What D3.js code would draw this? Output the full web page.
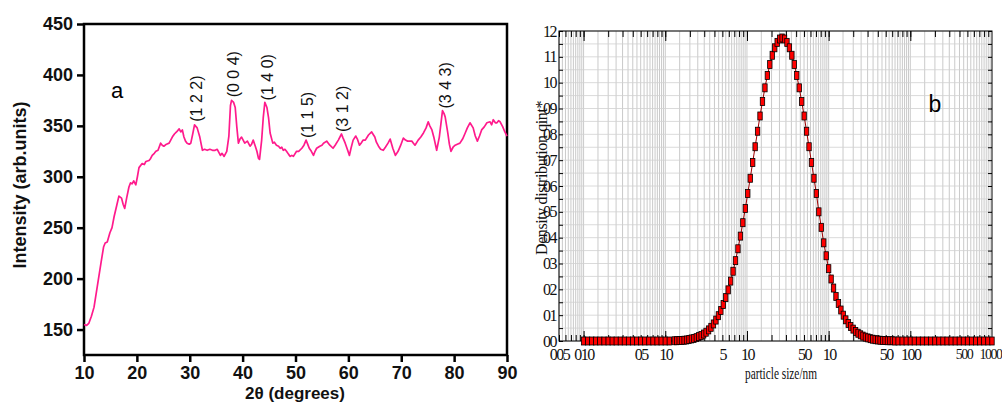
<!DOCTYPE html>
<html>
<head>
<meta charset="utf-8">
<script src="https://cdn.jsdelivr.net/npm/d3@7"></script>
<style>
  body { margin: 0; background: #fff; }
  svg { display: block; }
</style>
</head>
<body>
<script>
const w = 1002; // width
const h = 404;  // height

// ---- panel a : XRD pattern ----
const twoTheta = [10.0, 10.5, 10.9, 11.4, 11.9, 12.5, 13.2, 13.7, 14.0, 14.4, 14.9, 15.3, 15.7, 16.2, 16.6, 17.1, 17.4, 17.7, 18.1, 18.5,
  18.8, 19.1, 19.4, 19.8, 20.1, 20.4, 21.0, 21.4, 21.7, 22.3, 22.6, 22.9, 23.3, 23.6, 24.0, 24.5, 24.8, 25.1, 25.6, 26.1,
  26.4, 26.7, 27.1, 27.5, 28.0, 28.3, 28.6, 28.9, 29.2, 29.5, 29.9, 30.2, 30.6, 30.9, 31.4, 31.9, 32.2, 32.4, 32.8, 33.3,
  33.8, 34.3, 34.8, 35.2, 35.5, 35.8, 36.1, 36.5, 37.0, 37.4, 37.7, 37.9, 38.3, 38.6, 38.9, 39.2, 39.5, 39.8, 40.1, 40.4,
  40.9, 41.4, 41.7, 42.0, 42.4, 42.7, 43.0, 43.2, 43.6, 43.9, 44.2, 44.6, 44.9, 45.2, 45.7, 46.0, 46.4, 46.8, 47.1, 47.4,
  47.7, 48.0, 48.3, 48.7, 49.0, 49.3, 49.6, 50.2, 50.6, 51.2, 51.6, 52.0, 52.3, 52.6, 53.0, 53.4, 53.7, 54.0, 54.6, 55.0,
  55.3, 55.9, 56.2, 56.5, 57.1, 57.5, 58.1, 58.7, 59.0, 59.4, 59.8, 60.2, 60.5, 60.9, 61.4, 61.7, 62.1, 62.4, 62.8, 63.2,
  63.8, 64.4, 65.0, 65.3, 65.7, 66.1, 66.6, 67.0, 67.5, 67.9, 68.4, 68.9, 69.4, 69.9, 70.4, 70.8, 71.2, 71.6, 72.0, 72.3,
  72.6, 73.2, 73.7, 74.2, 74.7, 75.1, 75.4, 75.8, 76.2, 76.7, 77.2, 77.5, 77.8, 78.1, 78.3, 78.8, 79.1, 79.4, 79.8, 80.2,
  80.6, 81.1, 81.6, 82.1, 82.5, 83.0, 83.6, 84.0, 84.4, 84.8, 85.2, 85.7, 86.2, 86.8, 87.1, 87.4, 87.8, 88.1, 88.4, 88.7,
  89.2, 89.6, 90.0];
const intensity = [155, 154, 156, 163, 172, 192, 215, 231, 235, 236, 245, 250, 261, 272, 281, 279, 273, 269, 280, 290,
  294, 293, 296, 292, 300, 309, 313, 312, 315, 316, 318, 321, 323, 325, 326, 333, 331, 330, 332, 333,
  336, 339, 342, 344, 347, 344, 346, 339, 335, 333, 332, 333, 343, 351, 348, 339, 331, 326, 327, 326,
  327, 326, 326, 327, 324, 321, 323, 320, 325, 340, 370, 375, 373, 368, 349, 333, 337, 339, 336, 333,
  335, 330, 332, 336, 330, 325, 318, 317, 336, 358, 373, 368, 358, 343, 333, 334, 331, 330, 328, 329,
  326, 327, 325, 322, 320, 321, 320, 325, 325, 328, 331, 336, 332, 328, 325, 321, 325, 328, 330, 331,
  333, 335, 333, 331, 328, 331, 336, 342, 338, 333, 327, 321, 328, 336, 340, 337, 331, 333, 336, 336,
  341, 344, 339, 334, 330, 327, 326, 329, 333, 337, 328, 321, 325, 331, 338, 336, 335, 335, 335, 333,
  331, 336, 339, 343, 348, 354, 350, 346, 338, 326, 339, 352, 365, 362, 359, 343, 332, 325, 329, 331,
  332, 333, 337, 343, 348, 353, 348, 340, 335, 340, 346, 349, 353, 354, 351, 356, 353, 353, 355, 354,
  349, 344, 340];
const hklLabels = ["(1 2 2)", "(0 0 4)", "(1 4 0)", "(1 1 5)", "(3 1 2)", "(3 4 3)"];
const hklTheta = [31.2, 38.2, 44.6, 52.2, 58.8, 78.3];
const hklIntensity = [354, 378, 375, 338, 344, 367];
const xTicksA = [10, 20, 30, 40, 50, 60, 70, 80, 90];
const yTicksA = [150, 200, 250, 300, 350, 400, 450];

// ---- panel b : particle size distribution ----
const sizes = [0.01, 0.0112, 0.0126, 0.0141, 0.0158, 0.0178, 0.02, 0.0224, 0.0251, 0.0282, 0.0316, 0.0355, 0.0398, 0.0447,
  0.0501, 0.0562, 0.0631, 0.0708, 0.0794, 0.0891, 0.1, 0.112,
  0.129, 0.138, 0.148, 0.158, 0.170, 0.182, 0.195, 0.209, 0.224, 0.240, 0.257, 0.275, 0.295, 0.316, 0.339, 0.363,
  0.389, 0.417, 0.447, 0.479, 0.513, 0.550, 0.589, 0.631, 0.676, 0.724, 0.776, 0.832, 0.891, 0.955, 1.023, 1.096,
  1.175, 1.259, 1.349, 1.445, 1.549, 1.660, 1.778, 1.905, 2.042, 2.188, 2.344, 2.512, 2.692, 2.884, 3.090, 3.311,
  3.548, 3.802, 4.074, 4.365, 4.677, 5.012, 5.370, 5.754, 6.166, 6.607, 7.079, 7.586, 8.128, 8.710, 9.333, 10.0,
  10.72, 11.48, 12.30, 13.18, 14.13, 15.14, 16.22, 17.38, 18.62, 19.95, 21.38, 22.91, 24.55, 26.30, 28.18, 30.20,
  32.36, 34.67, 37.15, 39.81, 42.66, 45.71, 48.98, 52.48, 56.23, 60.26, 64.57,
  70.8, 79.4, 89.1, 100, 112, 126, 141, 158, 178, 200, 224, 251, 282, 316, 355, 398, 447, 501, 562, 631, 708, 794,
  891, 1000];
const qValues = [0, 0, 0, 0, 0, 0, 0, 0, 0, 0, 0, 0, 0, 0,
  0, 0, 0, 0, 0, 0, 0, 0,
  0.001, 0.001, 0.002, 0.002, 0.003, 0.004, 0.006, 0.008, 0.010, 0.013, 0.017, 0.021, 0.027, 0.034, 0.043, 0.053,
  0.066, 0.081, 0.098, 0.118, 0.141, 0.168, 0.198, 0.232, 0.270, 0.311, 0.357, 0.406, 0.458, 0.513, 0.571, 0.630,
  0.691, 0.752, 0.812, 0.871, 0.927, 0.980, 1.028, 1.070, 1.106, 1.135, 1.156, 1.169, 1.173, 1.169, 1.156, 1.135,
  1.106, 1.070, 1.028, 0.980, 0.927, 0.871, 0.812, 0.752, 0.691, 0.630, 0.571, 0.50, 0.44, 0.38, 0.33, 0.28,
  0.24, 0.205, 0.172, 0.145, 0.12, 0.10, 0.082, 0.068, 0.056, 0.046, 0.037, 0.030, 0.024, 0.019, 0.015, 0.012,
  0.009, 0.007, 0.005, 0.004, 0.003, 0.002, 0.002, 0.001, 0.001, 0.001, 0,
  0, 0, 0, 0, 0, 0, 0, 0, 0, 0, 0, 0, 0, 0, 0, 0, 0, 0, 0, 0, 0, 0,
  0, 0];
const xTicksB = [0.005, 0.01, 0.05, 0.1, 0.5, 1, 5, 10, 50, 100, 500, 1000];
const xLabelsB = ["005", "010", "05", "10", "5", "10", "50", "10", "50", "100", "500", "1000"];
const yTicksB = [0, 0.1, 0.2, 0.3, 0.4, 0.5, 0.6, 0.7, 0.8, 0.9, 1.0, 1.1, 1.2];
const yLabelsB = ["00", "01", "02", "03", "04", "05", "06", "07", "08", "09", "10", "11", "12"];

let svg = d3.select("body")
    .append("svg")
    .attr("width", w)
    .attr("height", h);

drawXrd();
drawPsd();

function drawXrd() {
    let x = d3.scaleLinear().domain([10, 90]).range([84, 507]);
    let y = d3.scaleLinear().domain([125, 450]).range([355, 24]);
    let g = svg.append("g");

    // frame
    g.append("rect")
        .attr("x", x(10)).attr("y", y(450))
        .attr("width", x(90) - x(10)).attr("height", y(125) - y(450))
        .attr("fill", "none").attr("stroke", "#000").attr("stroke-width", 2.5);

    let gY = g.append("g")
        .attr("transform", `translate(${x(10)},0)`)
        .call(d3.axisLeft(y).tickValues(yTicksA).tickSize(7).tickPadding(4));
    let gX = g.append("g")
        .attr("transform", `translate(0,${y(125)})`)
        .call(d3.axisBottom(x).tickValues(xTicksA).tickSize(7).tickPadding(4));
    [gX, gY].forEach(a => {
        a.select(".domain").remove();
        a.selectAll("line").attr("stroke-width", 2.5);
        a.selectAll("text")
            .attr("font-family", "Liberation Sans, Arial, sans-serif")
            .attr("font-weight", "bold")
            .attr("font-size", 18)
            .attr("fill", "#111");
    });

    // pattern
    let line = d3.line()
        .x((d, i) => x(twoTheta[i]))
        .y(d => y(d));
    g.append("path")
        .datum(intensity)
        .attr("d", line)
        .attr("fill", "none")
        .attr("stroke", "#ff1a8c")
        .attr("stroke-width", 1.7)
        .attr("stroke-linejoin", "round");

    // hkl labels
    g.selectAll(".hkl")
        .data(hklLabels)
        .enter()
        .append("text")
        .attr("class", "hkl")
        .attr("transform", (d, i) => `translate(${x(hklTheta[i]) + 6},${y(hklIntensity[i])}) rotate(-90)`)
        .attr("font-family", "Liberation Sans, Arial, sans-serif")
        .attr("font-size", 16)
        .attr("fill", "#111")
        .text(d => d);

    g.append("text")
        .attr("x", 117).attr("y", 98)
        .attr("text-anchor", "middle")
        .attr("font-family", "Liberation Sans, Arial, sans-serif")
        .attr("font-size", 22)
        .text("a");

    // axis titles
    g.append("text")
        .attr("transform", "translate(26,185) rotate(-90)")
        .attr("text-anchor", "middle")
        .attr("font-family", "Liberation Sans, Arial, sans-serif")
        .attr("font-weight", "bold")
        .attr("font-size", 18)
        .attr("fill", "#111")
        .text("Intensity (arb.units)");
    g.append("text")
        .attr("x", 295).attr("y", 399)
        .attr("text-anchor", "middle")
        .attr("font-family", "Liberation Sans, Arial, sans-serif")
        .attr("font-weight", "bold")
        .attr("font-size", 17)
        .attr("fill", "#111")
        .text("2θ (degrees)");
}

function drawPsd() {
    let x = d3.scaleLog().domain([0.005, 1000]).range([559, 992]);
    let y = d3.scaleLinear().domain([0, 1.2]).range([341, 31]);
    let g = svg.append("g");
    let serif = "Liberation Serif, Times New Roman, serif";

    // grid
    let fine = [], minor = [];
    [-3, -2, -1, 0, 1, 2].forEach(k => {
        for (let m = 1; m < 10; m += 0.5) {
            let v = m * Math.pow(10, k);
            if (v >= 0.005 && v <= 1000) fine.push(v);
            if (Number.isInteger(m) && v >= 0.005 && v <= 1000) minor.push(v);
        }
    });
    g.selectAll(".vgrid")
        .data(fine)
        .enter()
        .append("line")
        .attr("x1", d => x(d)).attr("x2", d => x(d))
        .attr("y1", y(1.2)).attr("y2", y(0))
        .attr("stroke", "#bdbdbd").attr("stroke-width", 0.8);
    let hgrid = d3.range(0, 1.2001, 0.05);
    g.selectAll(".hgrid")
        .data(hgrid)
        .enter()
        .append("line")
        .attr("x1", x(0.005)).attr("x2", x(1000))
        .attr("y1", d => y(d)).attr("y2", d => y(d))
        .attr("stroke", "#d0d0d0").attr("stroke-width", 0.8);

    // frame
    g.append("rect")
        .attr("x", x(0.005)).attr("y", y(1.2))
        .attr("width", x(1000) - x(0.005)).attr("height", y(0) - y(1.2))
        .attr("fill", "none").attr("stroke", "#000").attr("stroke-width", 1);

    // tick marks on all four sides, pointing in
    let majors = minor.filter(v => Math.abs(Math.log10(v) - Math.round(Math.log10(v))) < 1e-9);
    let tb = g.append("g").attr("transform", `translate(0,${y(0)})`)
        .call(d3.axisBottom(x).tickValues(minor).tickSize(-6).tickFormat(""));
    let tb2 = g.append("g").attr("transform", `translate(0,${y(0)})`)
        .call(d3.axisBottom(x).tickValues(majors).tickSize(-10).tickFormat(""));
    let tt = g.append("g").attr("transform", `translate(0,${y(1.2)})`)
        .call(d3.axisTop(x).tickValues(minor).tickSize(-6).tickFormat(""));
    let tt2 = g.append("g").attr("transform", `translate(0,${y(1.2)})`)
        .call(d3.axisTop(x).tickValues(majors).tickSize(-10).tickFormat(""));
    let tr = g.append("g").attr("transform", `translate(${x(1000)},0)`)
        .call(d3.axisRight(y).tickValues(hgrid).tickSize(-4).tickFormat(""));
    let tl = g.append("g").attr("transform", `translate(${x(0.005)},0)`)
        .call(d3.axisLeft(y).tickValues(hgrid).tickSize(-4).tickFormat(""));
    [tb, tb2, tt, tt2, tr, tl].forEach(a => a.select(".domain").remove());

    // tick labels
    let gX = g.append("g").attr("transform", `translate(0,${y(0)})`)
        .call(d3.axisBottom(x).tickValues(xTicksB).tickSize(0).tickPadding(8)
            .tickFormat((d, i) => xLabelsB[i]));
    let gY = g.append("g").attr("transform", `translate(${x(0.005)},0)`)
        .call(d3.axisLeft(y).tickValues(yTicksB).tickSize(0).tickPadding(3)
            .tickFormat((d, i) => yLabelsB[i]));
    [gX, gY].forEach(a => {
        a.select(".domain").remove();
        a.selectAll("text")
            .attr("font-family", serif)
            .attr("font-size", 16)
            .attr("letter-spacing", -1.5)
            .attr("fill", "#111");
    });
    // the last two labels crowd the page edge
    let last = gX.selectAll(".tick").filter((d, i) => i >= xTicksB.length - 2);
    last.select("text").attr("font-size", 14);
    last.filter((d, i) => i === 0).select("text").attr("x", -4);
    last.filter((d, i) => i === 1).select("text").attr("text-anchor", "end").attr("x", 9);

    // curve
    let line = d3.line()
        .x((d, i) => x(sizes[i]))
        .y(d => y(d));
    g.append("path")
        .datum(qValues)
        .attr("d", line)
        .attr("fill", "none")
        .attr("stroke", "#a00000")
        .attr("stroke-width", 1);
    g.selectAll(".pt")
        .data(qValues)
        .enter()
        .append("rect")
        .attr("class", "pt")
        .attr("x", (d, i) => x(sizes[i]) - 2.2)
        .attr("y", d => y(d) - 4)
        .attr("width", 4.4)
        .attr("height", 8)
        .attr("fill", "#ff0000")
        .attr("stroke", "#000")
        .attr("stroke-width", 0.8);

    g.append("text")
        .attr("x", 935).attr("y", 112)
        .attr("text-anchor", "middle")
        .attr("font-family", "Liberation Sans, Arial, sans-serif")
        .attr("font-size", 23)
        .text("b");

    g.append("text")
        .attr("transform", "translate(547,178) rotate(-90)")
        .attr("text-anchor", "middle")
        .attr("font-family", serif)
        .attr("font-size", 16)
        .attr("letter-spacing", -0.4)
        .attr("fill", "#111")
        .text("Density distribution qint*");

    g.append("text")
        .attr("x", 745).attr("y", 379)
        .attr("textLength", 72)
        .attr("lengthAdjust", "spacingAndGlyphs")
        .attr("font-family", serif)
        .attr("font-size", 16)
        .attr("fill", "#111")
        .text("particle size/nm");
}
</script>
</body>
</html>
